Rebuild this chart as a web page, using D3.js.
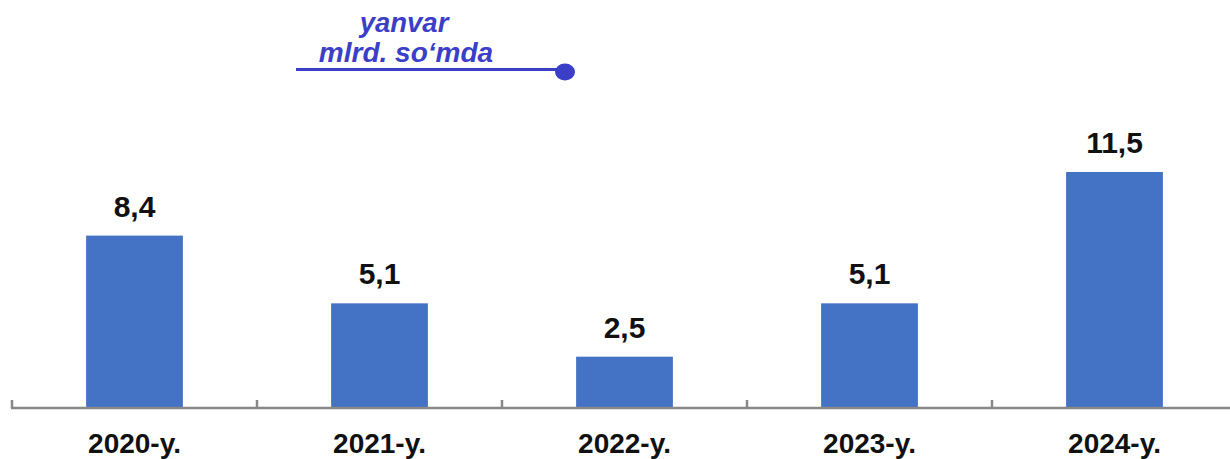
<!DOCTYPE html>
<html><head><meta charset="utf-8">
<script src="https://cdn.jsdelivr.net/npm/d3@7"></script>
<style>html,body{margin:0;padding:0;background:#fff;}svg{display:block;}</style>
</head><body>
<script>
const categories = ["2020-y.", "2021-y.", "2022-y.", "2023-y.", "2024-y."];
const values = [8.4, 5.1, 2.5, 5.1, 11.5];
const valueLabels = ["8,4", "5,1", "2,5", "5,1", "11,5"];
const titleLines = ["yanvar", "mlrd. so‘mda"];

const W = 1230, H = 459;
const svg = d3.select("body").append("svg").attr("width", W).attr("height", H);

const baseY = 408;
const x = d3.scaleBand().domain(categories).range([12, 1237]).paddingInner(0.605).paddingOuter(0.3025);
const y = d3.scaleLinear().domain([0, 11.5]).range([baseY, 172]);

// bars
svg.selectAll("rect.bar").data(values).enter().append("rect")
  .attr("class", "bar")
  .attr("x", (d, i) => x(categories[i]))
  .attr("width", x.bandwidth())
  .attr("y", d => y(d))
  .attr("height", d => baseY - y(d))
  .attr("fill", "#4472c4");

// value labels
svg.selectAll("text.val").data(values).enter().append("text")
  .attr("class", "val")
  .attr("x", (d, i) => x(categories[i]) + x.bandwidth() / 2)
  .attr("y", d => y(d) - 19)
  .attr("text-anchor", "middle")
  .attr("font-family", "Liberation Sans, Arial, sans-serif")
  .attr("font-weight", "bold")
  .attr("font-size", 30)
  .attr("fill", "#111")
  .text((d, i) => valueLabels[i]);

// axis
const axisG = svg.append("g").attr("transform", `translate(0,${baseY})`);
const axis = d3.axisBottom(x).tickSize(0).tickPadding(0);
axisG.call(axis);
axisG.select(".domain").remove();
axisG.append("line").attr("x1", 11).attr("x2", 1237).attr("y1", 0).attr("y2", 0)
  .attr("stroke", "#888").attr("stroke-width", 2.5);
const bounds = categories.map(c => x(c) - x.step() * x.paddingInner() / 2).concat([x(categories[categories.length-1]) + x.bandwidth() + x.step()*x.paddingInner()/2]);
axisG.selectAll("line.tk").data(bounds).enter().append("line")
  .attr("class", "tk")
  .attr("x1", d => d).attr("x2", d => d).attr("y1", 0).attr("y2", -8)
  .attr("stroke", "#888").attr("stroke-width", 2.5);
axisG.selectAll(".tick text")
  .attr("y", 45)
  .attr("dy", 0)
  .attr("font-family", "Liberation Sans, Arial, sans-serif")
  .attr("font-weight", "bold")
  .attr("font-size", 28)
  .attr("fill", "#111");

// title
const tc = "#3b3fc8";
svg.append("text").attr("x", 404).attr("y", 32).attr("text-anchor", "middle")
  .attr("font-family", "Liberation Sans, Arial, sans-serif").attr("font-style", "italic")
  .attr("font-weight", "bold").attr("font-size", 27.5).attr("fill", tc).text(titleLines[0]);
svg.append("text").attr("x", 406).attr("y", 62).attr("text-anchor", "middle")
  .attr("font-family", "Liberation Sans, Arial, sans-serif").attr("font-style", "italic")
  .attr("font-weight", "bold").attr("font-size", 28).attr("fill", tc).text(titleLines[1]);
svg.append("line").attr("x1", 296).attr("x2", 560).attr("y1", 69.5).attr("y2", 69.5)
  .attr("stroke", tc).attr("stroke-width", 3);
svg.append("ellipse").attr("cx", 565).attr("cy", 72).attr("rx", 10).attr("ry", 8.5).attr("fill", tc);
</script>
</body></html>
